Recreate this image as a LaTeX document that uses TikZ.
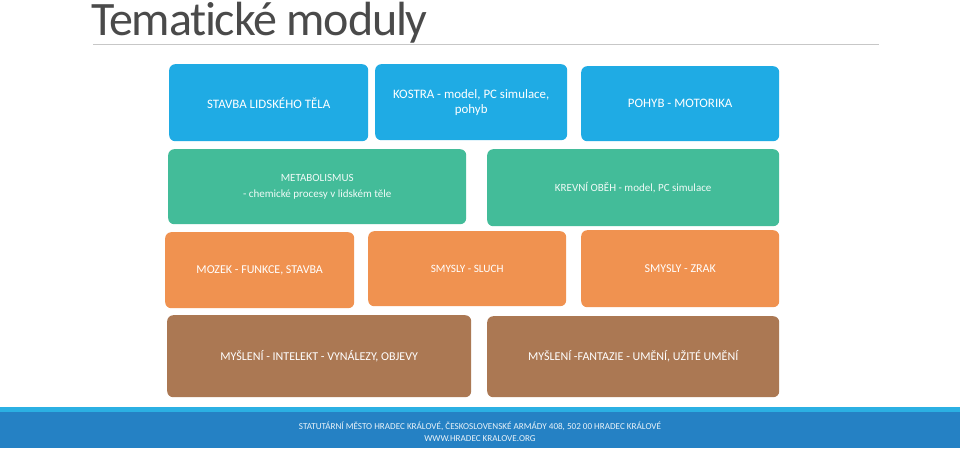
\documentclass[tikz,border=0pt]{standalone}
\usepackage{fontspec}
\setmainfont{Carlito}
\newfontfamily\titlefont[LetterSpace=-2.5,Ligatures=NoCommon]{Carlito}
\definecolor{cblue}{HTML}{1FABE4}
\definecolor{cgreen}{HTML}{43BC99}
\definecolor{corange}{HTML}{F09250}
\definecolor{cbrown}{HTML}{AB7853}
\definecolor{fband}{HTML}{2BB0E3}
\definecolor{fblue}{HTML}{2581C4}
\definecolor{ctitle}{HTML}{4A4A4A}
\tikzset{
  tile/.style={rounded corners=6pt,inner sep=0pt,anchor=north west,align=center,text=white,font=\fontsize{12}{14.5}\selectfont},
  bluetile/.style={tile,fill=cblue,font=\fontsize{12.9}{15}\selectfont},
  greentile/.style={tile,fill=cgreen,text=white!92!cgreen,font=\fontsize{11}{16}\selectfont},
  orangetile/.style={tile,fill=corange},
  smalltile/.style={orangetile,font=\fontsize{11.2}{14}\selectfont},
  browntile/.style={tile,fill=cbrown},
}
\newcommand{\tilebox}[7]{% name, style, x0, y0, x1, y1, text
  \pgfmathsetmacro{\tw}{#5-#3}\pgfmathsetmacro{\th}{#6-#4}
  \node[#2,minimum width=\tw pt,minimum height=\th pt] (#1) at (#3,#4) {#7};}
\begin{document}
\begin{tikzpicture}[x=1pt,y=-1pt]
\useasboundingbox (0,0) rectangle (960,448);
\fill[white] (0,0) rectangle (960,448);
\node[anchor=base west,inner sep=0pt,text=ctitle,font=\fontsize{48}{50}\titlefont] (title) at (91,35.5) {Tematické moduly};
\coordinate (ruleL) at (93,44.5);
\coordinate (ruleR) at (879,44.5);
\draw[color=black!22,line width=0.9pt] (ruleL) -- (ruleR);
\tilebox{a1}{bluetile}{169}{64}{368}{141}{STAVBA LIDSKÉHO TĚLA}
\tilebox{a2}{bluetile}{375}{64}{567}{140}{KOSTRA - model, PC simulace,\\pohyb}
\tilebox{a3}{bluetile}{581}{66}{779}{141}{POHYB - MOTORIKA}
\tilebox{b1}{greentile}{168}{149}{466}{224}{METABOLISMUS\\- chemické procesy v lidském těle}
\tilebox{b2}{greentile}{487}{149}{779}{226}{KREVNÍ OBĚH - model, PC simulace}
\tilebox{c1}{orangetile}{165}{232}{354}{308}{MOZEK - FUNKCE, STAVBA}
\tilebox{c2}{smalltile}{368}{231}{566}{306}{SMYSLY - SLUCH}
\tilebox{c3}{orangetile}{581}{230}{779}{307}{SMYSLY - ZRAK}
\tilebox{d1}{browntile}{167}{315}{471}{397}{MYŠLENÍ - INTELEKT - VYNÁLEZY, OBJEVY}
\tilebox{d2}{browntile}{487}{316}{779}{397}{MYŠLENÍ -FANTAZIE - UMĚNÍ, UŽITÉ UMĚNÍ}
\fill[fband] (0,407) rectangle (960,412);
\fill[fblue] (0,412) rectangle (960,448);
\node[inner sep=0pt,align=center,text=white!90!fblue,font=\fontsize{9.1}{12}\selectfont] (foot) at (480,431.5) {STATUTÁRNÍ MĚSTO HRADEC KRÁLOVÉ, ČESKOSLOVENSKÉ ARMÁDY 408, 502 00 HRADEC KRÁLOVÉ\\WWW.HRADEC KRALOVE.ORG};
\end{tikzpicture}
\end{document}
